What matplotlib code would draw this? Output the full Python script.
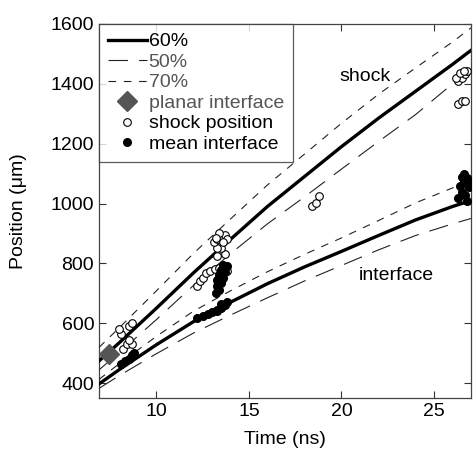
import numpy as np
import matplotlib
matplotlib.use("Agg")
import matplotlib.pyplot as plt

plt.rcParams["font.family"] = ["Liberation Sans", "DejaVu Sans"]
plt.rcParams["lines.scale_dashes"] = False

# model curves (time in ns, position in um)
t_model = [6.9, 8, 10, 12, 14, 16, 18, 20, 22, 24, 26, 27]
shock_60 = [474, 535, 650, 768, 880, 990, 1090, 1190, 1285, 1375, 1465, 1512]
shock_70 = [519, 585, 708, 833, 948, 1062, 1165, 1268, 1365, 1453, 1540, 1587]
shock_50 = [444, 502, 612, 726, 832, 932, 1022, 1115, 1207, 1297, 1400, 1452]
iface_60 = [397, 445, 528, 605, 670, 732, 788, 840, 893, 945, 990, 1010]
iface_70 = [412, 465, 556, 640, 708, 772, 830, 885, 943, 1002, 1052, 1075]
iface_50 = [382, 425, 498, 567, 627, 685, 741, 793, 845, 893, 932, 950]

# planar interface
planar_t = [7.45]
planar_x = [497]

# shock position measurements
shock_t = [8.2, 8.4, 8.7, 8.5, 8.1, 8.5, 8.7, 8.0,
           12.2, 12.35, 12.5, 12.7, 12.9, 13.15, 13.4, 13.7, 13.8, 13.3, 13.7, 13.5,
           13.25, 13.1, 13.3, 13.5, 13.7, 13.4, 13.8, 13.2, 13.6,
           18.4, 18.6, 18.8,
           26.3, 26.5, 26.7, 26.8, 26.2, 26.4, 26.6, 26.3, 26.5, 26.7]
shock_x = [515, 530, 530, 545, 565, 590, 600, 580,
           724, 742, 752, 768, 775, 781, 786, 792, 776, 826, 832, 850,
           852, 870, 880, 890, 895, 900, 880, 885, 872,
           992, 1002, 1025,
           1410, 1420, 1433, 1443, 1420, 1437, 1443, 1333, 1343, 1343]

# mean interface measurements
iface_t = [8.1, 8.3, 8.5, 8.7, 8.8,
           12.2, 12.5, 12.8, 13.0, 13.3, 13.5, 13.7, 13.5, 13.8, 13.3,
           13.2, 13.4, 13.3, 13.5, 13.3, 13.6, 13.4, 13.7, 13.5, 13.8, 13.6,
           26.3, 26.5, 26.4, 26.6, 26.8, 26.5, 26.9, 26.7, 26.8, 27.0, 26.6]
iface_x = [465, 472, 482, 495, 500,
           618, 625, 632, 638, 645, 650, 660, 665, 670, 640,
           700, 710, 725, 735, 745, 752, 760, 770, 778, 790, 795,
           1020, 1040, 1060, 1075, 1085, 1090, 1055, 1030, 1010, 1070, 1100]

fig = plt.figure(figsize=(4.73, 4.49), dpi=100)
ax = fig.add_axes([99 / 473, 51 / 449, 372 / 473, 374 / 449])

short_dash = (0, (5.5, 5.5))
long_dash = (0, (14, 8))

ax.plot(t_model, shock_60, color="black", lw=2.4, zorder=4, label="60%")
ax.plot(t_model, shock_50, color="#222222", lw=0.8, ls=long_dash, zorder=3, label="50%")
ax.plot(t_model, shock_70, color="#222222", lw=0.8, ls=short_dash, zorder=3, label="70%")
ax.plot(t_model, iface_60, color="black", lw=2.4, zorder=4)
ax.plot(t_model, iface_50, color="#222222", lw=0.8, ls=long_dash, zorder=3)
ax.plot(t_model, iface_70, color="#222222", lw=0.8, ls=short_dash, zorder=3)

ax.plot(planar_t, planar_x, ls="none", marker="D", ms=10, color="#555555",
        zorder=5, label="planar interface")
ax.plot(shock_t, shock_x, ls="none", marker="o", ms=5.5, mfc="white", mec="black",
        mew=0.8, zorder=5, label="shock position")
ax.plot(iface_t, iface_x, ls="none", marker="o", ms=5.5, color="black",
        zorder=5, label="mean interface")

ax.text(21.3, 1423, "shock", fontsize=14, ha="center", va="center")
ax.text(22.95, 758, "interface", fontsize=14, ha="center", va="center")

ax.set_xlim(6.9, 27.0)
ax.set_ylim(350, 1600)
ax.set_xticks([10, 15, 20, 25])
ax.set_yticks(np.arange(400, 1601, 200))
ax.tick_params(direction="in", length=5, width=0.8, top=True, right=True,
               labelsize=14, colors="#333333", labelcolor="black")
for s in ax.spines.values():
    s.set_color("#444444")
    s.set_linewidth(0.9)

ax.set_xlabel("Time (ns)", fontsize=14, labelpad=8)
ax.set_ylabel("Position (μm)", fontsize=14, labelpad=17)

leg = ax.legend(loc="upper left", borderaxespad=0, fontsize=14, frameon=True,
                fancybox=False, edgecolor="#333333", handlelength=2.0,
                handletextpad=0.1, labelspacing=0.15, borderpad=0.45)
leg.get_frame().set_linewidth(0.9)
for txt, c in zip(leg.get_texts(), ["black", "#555555", "#555555", "#555555", "black", "black"]):
    txt.set_color(c)

fig.savefig("out.png", dpi=100)
